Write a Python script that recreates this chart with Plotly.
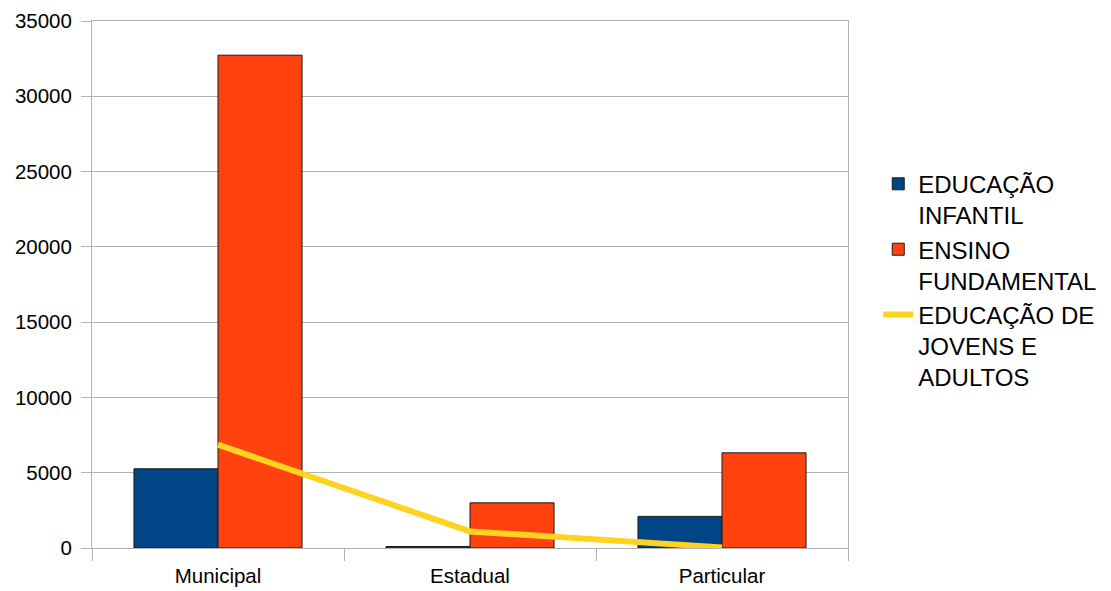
import plotly.graph_objects as go

categories = ["Municipal", "Estadual", "Particular"]
educacao_infantil = [5260, 100, 2100]
ensino_fundamental = [32730, 3000, 6320]
eja = [6860, 1100, 40]
y_ticks = [0, 5000, 10000, 15000, 20000, 25000, 30000, 35000]
y_tick_labels = ["0", "5000", "10000", "15000", "20000", "25000", "30000", "35000"]

FONT = "Liberation Sans, Arial, sans-serif"

fig = go.Figure()
fig.add_trace(go.Bar(
    x=categories, y=educacao_infantil, name="EDUCAÇÃO<br>INFANTIL",
    marker=dict(color="#004586", line=dict(color="#1a1a1a", width=1)),
))
fig.add_trace(go.Bar(
    x=categories, y=ensino_fundamental, name="ENSINO<br>FUNDAMENTAL",
    marker=dict(color="#ff420e", line=dict(color="#1a1a1a", width=1)),
))
fig.add_trace(go.Scatter(
    x=categories, y=eja, name="EDUCAÇÃO DE<br>JOVENS E<br>ADULTOS",
    mode="lines", line=dict(color="#ffd320", width=6),
))

fig.update_layout(
    width=1103, height=583,
    margin=dict(l=84, r=263, t=13, b=43, autoexpand=False),
    paper_bgcolor="white", plot_bgcolor="white",
    barmode="group", bargap=0.333, bargroupgap=0,
    font=dict(family=FONT, color="black", size=20),
    showlegend=True,
    legend=dict(
        x=1.04, xanchor="left", y=0.733, yanchor="top",
        font=dict(size=24, family=FONT, color="black"),
        valign="top", tracegroupgap=4,
        bgcolor="rgba(0,0,0,0)",
    ),
    xaxis=dict(
        showgrid=False, showline=True, linecolor="#b3b3b3", linewidth=1,
        mirror=True, ticks="outside", tickson="boundaries", ticklen=12,
        tickcolor="#b3b3b3", tickfont=dict(size=20.5, family=FONT, color="black"),
        ticklabelstandoff=9, automargin=False,
    ),
    yaxis=dict(
        range=[0, 35000], tickmode="array", tickvals=y_ticks, ticktext=y_tick_labels,
        showgrid=True, gridcolor="#b3b3b3",
        showline=True, linecolor="#b3b3b3", linewidth=1, mirror=True,
        ticks="outside", ticklen=10, tickcolor="#b3b3b3", zeroline=False,
        tickfont=dict(size=20.5, family=FONT, color="black"),
        ticklabelstandoff=5, automargin=False,
    ),
)

fig.write_html("out.html")
